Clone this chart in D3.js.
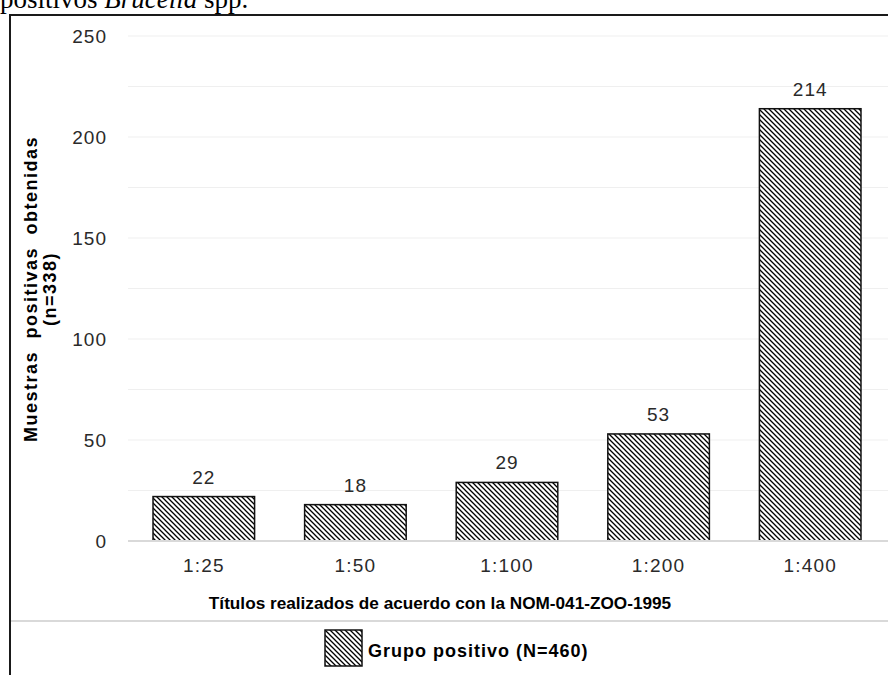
<!DOCTYPE html>
<html>
<head>
<meta charset="utf-8">
<script src="https://cdn.jsdelivr.net/npm/d3@7"></script>
<style>
  html, body { margin: 0; padding: 0; background: #fff; }
  svg { display: block; }
</style>
</head>
<body>
<svg id="chart" width="888" height="675"></svg>
<script>
// Títulos de aglutinación y número de muestras positivas
const categories = ["1:25", "1:50", "1:100", "1:200", "1:400"];
const positives = [22, 18, 29, 53, 214];
const yTicks = [0, 50, 100, 150, 200, 250];
const gridValues = [25, 50, 75, 100, 125, 150, 175, 200, 225, 250];
const seriesName = "Grupo positivo (N=460)";
const xTitle = "Títulos realizados de acuerdo con la NOM-041-ZOO-1995";
const yTitle = ["Muestras positivas obtenidas", "(n=338)"];

const svg = d3.select("#chart");
const sans = "'Liberation Sans', Arial, sans-serif";

// Hatch pattern (downward diagonal)
const defs = svg.append("defs");
const pat = defs.append("pattern")
  .attr("id", "hatch")
  .attr("patternUnits", "userSpaceOnUse")
  .attr("width", 5).attr("height", 5);
pat.append("rect").attr("width", 5).attr("height", 5).attr("fill", "#fff");
pat.append("path")
  .attr("d", "M0,0 L5,5 M-1,4 L1,6 M4,-1 L6,1")
  .attr("stroke", "#000").attr("stroke-width", 1.3);

// Caption fragment above the frame
svg.append("text")
  .attr("x", 0).attr("y", 8)
  .attr("font-family", "'Liberation Serif', 'Times New Roman', serif")
  .attr("font-size", 27)
  .attr("fill", "#000")
  .call(t => {
    t.append("tspan").text("positivos ");
    t.append("tspan").attr("font-style", "italic").text("Brucella");
    t.append("tspan").text(" spp.");
  });

// Scales
const x = d3.scaleBand()
  .domain(categories)
  .range([128, 886])
  .paddingInner(0.33)
  .paddingOuter(0.165);
const y = d3.scaleLinear().domain([0, 250]).range([541, 36]);

// Gridlines
svg.append("g")
  .selectAll("line")
  .data(gridValues)
  .join("line")
  .attr("x1", 128).attr("x2", 888)
  .attr("y1", d => y(d)).attr("y2", d => y(d))
  .attr("stroke", "#efefef").attr("stroke-width", 1.2);

// Y axis labels
const yAxis = svg.append("g")
  .attr("transform", "translate(107,0)")
  .call(d3.axisLeft(y).tickValues(yTicks).tickSize(0).tickPadding(0));
yAxis.select(".domain").remove();
yAxis.selectAll("text")
  .attr("font-family", sans).attr("font-size", 19)
  .attr("letter-spacing", 1)
  .attr("fill", "#2a2a2a");

// Bars
svg.append("g")
  .selectAll("rect")
  .data(positives)
  .join("rect")
  .attr("x", (d, i) => x(categories[i]))
  .attr("y", d => y(d))
  .attr("width", x.bandwidth())
  .attr("height", d => y(0) - y(d))
  .attr("fill", "url(#hatch)")
  .attr("stroke", "#111").attr("stroke-width", 1.5);

// Baseline
svg.append("line")
  .attr("x1", 128).attr("x2", 888)
  .attr("y1", y(0)).attr("y2", y(0))
  .attr("stroke", "#d9d9d9").attr("stroke-width", 2);

// Value labels
svg.append("g")
  .selectAll("text")
  .data(positives)
  .join("text")
  .attr("x", (d, i) => x(categories[i]) + x.bandwidth() / 2)
  .attr("y", d => y(d) - 13)
  .attr("text-anchor", "middle")
  .attr("font-family", sans).attr("font-size", 19)
  .attr("letter-spacing", 1)
  .attr("fill", "#2a2a2a")
  .text(d => d);

// X axis labels
const xAxis = svg.append("g")
  .attr("transform", `translate(0,${y(0)})`)
  .call(d3.axisBottom(x).tickSize(0).tickPadding(18));
xAxis.select(".domain").remove();
xAxis.selectAll("text")
  .attr("font-family", sans).attr("font-size", 19)
  .attr("letter-spacing", 1.2)
  .attr("fill", "#2a2a2a");

// Axis titles
svg.append("text")
  .attr("x", 440).attr("y", 609)
  .attr("text-anchor", "middle")
  .attr("font-family", sans).attr("font-size", 17.2).attr("font-weight", "bold")
  .attr("fill", "#000")
  .text(xTitle);

const yt = svg.append("text")
  .attr("transform", "translate(0,289) rotate(-90)")
  .attr("text-anchor", "middle")
  .attr("font-family", sans).attr("font-size", 18).attr("font-weight", "bold")
  .attr("letter-spacing", 1.5).attr("word-spacing", 6)
  .attr("fill", "#000");
yt.append("tspan").attr("x", 0).attr("y", 37).text(yTitle[0]);
yt.append("tspan").attr("x", 0).attr("y", 56).text(yTitle[1]);

// Legend separator
svg.append("line")
  .attr("x1", 10).attr("x2", 888)
  .attr("y1", 621).attr("y2", 621)
  .attr("stroke", "#d9d9d9").attr("stroke-width", 2);

// Legend
const lg = svg.append("g").attr("transform", "translate(325,630)");
lg.append("rect")
  .attr("width", 37).attr("height", 36)
  .attr("fill", "url(#hatch)")
  .attr("stroke", "#111").attr("stroke-width", 1.5);
lg.append("text")
  .attr("x", 43).attr("y", 27)
  .attr("font-family", sans).attr("font-size", 18).attr("font-weight", "bold")
  .attr("letter-spacing", 1)
  .attr("fill", "#000")
  .text(seriesName);

// Frame
svg.append("path")
  .attr("d", "M10,675 L10,15 L888,15")
  .attr("fill", "none")
  .attr("stroke", "#1a1a1a").attr("stroke-width", 2);
</script>
</body>
</html>
